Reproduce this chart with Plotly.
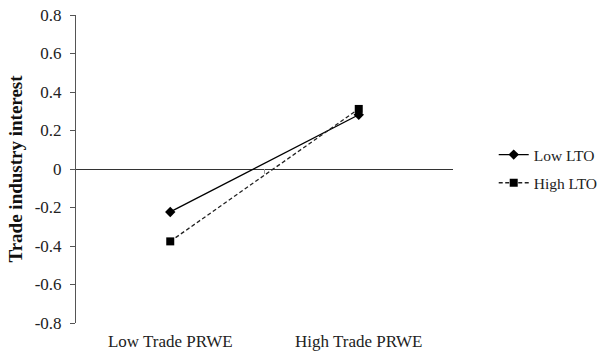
import plotly.graph_objects as go

# Interaction plot: trade industry interest by PRWE level and LTO group
categories = ["Low Trade PRWE", "High Trade PRWE"]
low_lto = [-0.223, 0.282]
high_lto = [-0.376, 0.312]
y_ticks = [-0.8, -0.6, -0.4, -0.2, 0, 0.2, 0.4, 0.6, 0.8]
y_tick_labels = ["-0.8", "-0.6", "-0.4", "-0.2", "0", "0.2", "0.4", "0.6", "0.8"]

FONT = "Liberation Serif"
TEXT = "#222222"

fig = go.Figure()
fig.add_trace(go.Scatter(
    x=[0, 1], y=low_lto, name="Low LTO", mode="lines+markers",
    line=dict(color="black", width=1.3),
    marker=dict(symbol="diamond", size=8, color="black"),
    legendgroup="a",
))
fig.add_trace(go.Scatter(
    x=[0, 1], y=high_lto, name="High LTO", mode="lines+markers",
    line=dict(color="#222222", width=1.3, dash="4px,2.5px"),
    marker=dict(symbol="square", size=8, color="black"),
    legendgroup="b",
))

# small tick mark on the zero line between the two categories
fig.add_shape(type="line", x0=0.5, x1=0.5, y0=0, y1=-0.025,
              xref="x", yref="y", line=dict(color="#999999", width=1))

fig.update_layout(
    width=601, height=352,
    margin=dict(l=76, r=148, t=15, b=29, autoexpand=False),
    paper_bgcolor="white", plot_bgcolor="white",
    font=dict(family=FONT, size=17, color=TEXT),
    showlegend=True,
    legend=dict(x=1.108, y=0.5, xanchor="left", yanchor="middle",
                font=dict(family=FONT, size=15.5, color=TEXT),
                traceorder="grouped", tracegroupgap=5,
                borderwidth=0,
                bgcolor="rgba(0,0,0,0)"),
    xaxis=dict(
        range=[-0.5, 1.5], tickvals=[0, 1], ticktext=categories,
        showline=False, showgrid=False, zeroline=False, ticks="",
        tickfont=dict(family=FONT, size=17, color=TEXT),
        ticklabelstandoff=6,
        automargin=False,
        fixedrange=True,
    ),
    yaxis=dict(
        range=[-0.8, 0.8], tickvals=y_ticks, ticktext=y_tick_labels,
        showline=True, linecolor="#555555", linewidth=1,
        ticks="outside", ticklen=5, tickcolor="#555555",
        ticklabelstandoff=5,
        showgrid=False, zeroline=True, zerolinecolor="#333333", zerolinewidth=1,
        tickfont=dict(family=FONT, size=17, color=TEXT),
        title=dict(text="<b>Trade industry interest</b>",
                   font=dict(family=FONT, size=19, color="#111111"),
                   standoff=7),
        automargin=False,
    ),
)

fig.write_html("out.html")
